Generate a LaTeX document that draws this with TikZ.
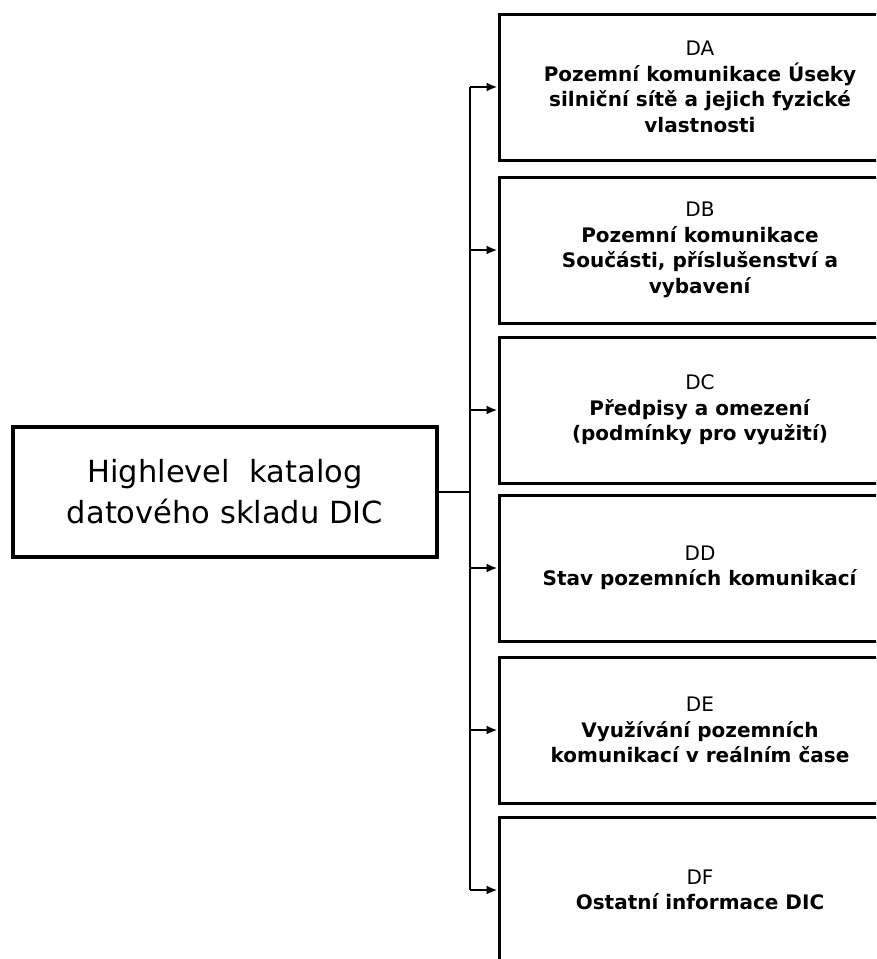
\documentclass[tikz,border=0pt]{standalone}
\usepackage{fontspec}
\setmainfont{DejaVu Sans}
\usetikzlibrary{arrows.meta}
\begin{document}
\begin{tikzpicture}[x=1pt,y=-1pt,
 catbox/.style={draw, line width=3pt, minimum width=402pt, minimum height=146pt, align=center, font=\fontsize{20}{25.5}\selectfont, inner sep=0pt},
 mainbox/.style={draw, line width=4.5pt, minimum width=424pt, minimum height=130pt, align=center, font=\fontsize{30.5}{41}\selectfont, inner sep=0pt},
 conn/.style={line width=2.2pt},
 arr/.style={conn, -{Latex[length=11pt,width=9pt]}}]
\useasboundingbox (0,0) rectangle (876,959);
\clip (0,0) rectangle (876,959);
\node[mainbox] (main) at (225,492) {Highlevel\ \ katalog\\datového skladu DIC};
\node[catbox] (DA) at (700,87) {DA\\\textbf{Pozemní komunikace Úseky}\\\textbf{silniční sítě a jejich fyzické}\\\textbf{vlastnosti}};
\node[catbox] (DB) at (700,250) {DB\\\textbf{Pozemní komunikace}\\\textbf{Součásti, příslušenství a}\\\textbf{vybavení}};
\node[catbox] (DC) at (700,410) {DC\\\textbf{Předpisy a omezení}\\\textbf{(podmínky pro využití)}};
\node[catbox] (DD) at (700,568) {DD\\\textbf{Stav pozemních komunikací}};
\node[catbox] (DE) at (700,730) {DE\\\textbf{Využívání pozemních}\\\textbf{komunikací v reálním čase}};
\node[catbox] (DF) at (700,890) {DF\\\textbf{Ostatní informace DIC}};
\coordinate (trunk) at (470,0);
\draw[conn] (main.east) -- (main.east -| trunk);
\draw[conn] (DA.west -| trunk) -- (DF.west -| trunk);
\foreach \b in {DA,DB,DC,DD,DE,DF}{
  \draw[arr] (\b.west -| trunk) -- (\b.west);
}
\end{tikzpicture}
\end{document}
